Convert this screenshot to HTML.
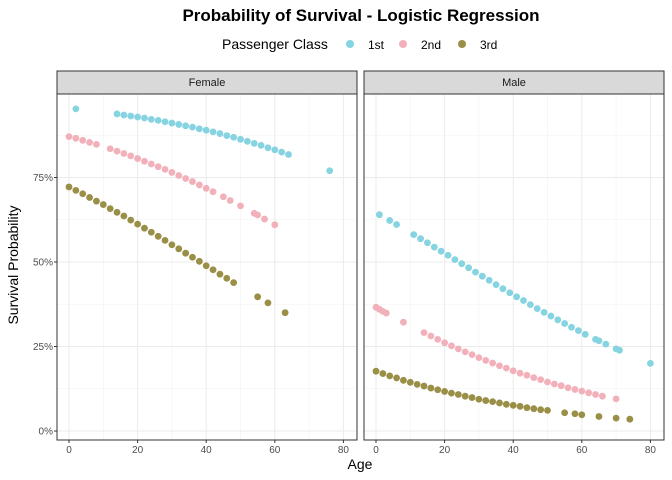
<!DOCTYPE html>
<html><head><meta charset="utf-8">
<style>
html,body{margin:0;padding:0;background:#fff;}
svg{display:block;font-family:"Liberation Sans",Arial,sans-serif;}
</style></head>
<body>
<svg id="chart" width="672" height="480" viewBox="0 0 672 480">
<text x="361" y="21" text-anchor="middle" font-size="17" font-weight="bold" fill="#000">Probability of Survival - Logistic Regression</text>
<g>
<text x="222" y="49" font-size="14" fill="#000">Passenger Class</text>
<circle cx="350" cy="44" r="4" fill="#86d3e1"/>
<text x="368" y="49" font-size="12" fill="#000">1st</text>
<circle cx="403" cy="44" r="4" fill="#f2b1ba"/>
<text x="421" y="49" font-size="12" fill="#000">2nd</text>
<circle cx="462" cy="44" r="4" fill="#9a8f47"/>
<text x="480" y="49" font-size="12" fill="#000">3rd</text>
</g>
<text x="360" y="469" text-anchor="middle" font-size="14" fill="#000">Age</text>
<text transform="translate(18,265) rotate(-90)" text-anchor="middle" font-size="14" fill="#000">Survival Probability</text>
<g id="panels"></g>
</svg>
<script>
const xTicks = [0, 20, 40, 60, 80];
const yTicks = [0, 0.25, 0.5, 0.75];
const yTickLabels = ["0%", "25%", "50%", "75%"];
const panelNames = ["Female", "Male"];
const classNames = ["1st", "2nd", "3rd"];

const femaleAge1 = [2,14,16,18,20,22,24,26,28,30,32,34,36,38,40,42,44,46,48,50,52,54,56,58,60,62,64,76];
const femaleProb1 = [.953,.938,.935,.932,.929,.926,.922,.919,.915,.911,.907,.903,.899,.894,.890,.885,.880,.874,.869,.863,.857,.851,.845,.838,.832,.825,.818,.770];
const femaleAge2 = [0,2,4,6,8,12,14,16,18,20,22,24,26,28,30,32,34,36,38,40,42,45,47,50,54,55,57,60];
const femaleProb2 = [.871,.866,.860,.854,.848,.835,.828,.821,.814,.806,.798,.790,.782,.774,.765,.756,.747,.738,.728,.718,.708,.693,.682,.666,.644,.639,.627,.610];
const femaleAge3 = [0,2,4,6,8,10,12,14,16,18,20,22,24,26,28,30,32,34,36,38,40,42,44,46,48,55,58,63];
const femaleProb3 = [.722,.712,.702,.691,.680,.670,.658,.647,.636,.624,.612,.600,.588,.576,.564,.551,.539,.526,.514,.502,.489,.477,.464,.452,.439,.397,.379,.350];
const maleAge1 = [1,4,6,11,13,15,17,19,21,23,25,27,29,31,33,35,37,39,41,43,45,47,49,51,53,55,57,59,61,64,65,67,70,71,80];
const maleProb1 = [.640,.623,.611,.581,.569,.557,.544,.532,.520,.507,.495,.483,.470,.458,.446,.433,.421,.409,.397,.386,.374,.362,.351,.340,.329,.318,.307,.297,.286,.271,.267,.257,.243,.239,.200];
const maleAge2 = [0,1,2,3,8,14,16,18,20,22,24,26,28,30,32,34,36,38,40,42,44,46,48,50,52,54,56,58,60,62,64,66,70];
const maleProb2 = [.366,.360,.354,.349,.322,.291,.281,.271,.261,.252,.243,.234,.226,.217,.209,.201,.193,.186,.178,.171,.165,.158,.152,.145,.139,.134,.128,.123,.118,.113,.108,.103,.095];
const maleAge3 = [0,2,4,6,8,10,12,14,16,18,20,22,24,26,28,30,32,34,36,38,40,42,44,46,48,50,55,58,60,65,70,74];
const maleProb3 = [.177,.170,.163,.157,.150,.144,.138,.133,.127,.122,.117,.112,.108,.103,.099,.094,.090,.087,.083,.079,.076,.073,.069,.066,.063,.061,.054,.051,.048,.043,.038,.035];

const colors = ["#86d3e1", "#f2b1ba", "#9a8f47"];
const NS = "http://www.w3.org/2000/svg";
const panelX = [57, 364], panelW = 300, panelTop = 94, panelBottom = 440;
function xScale(p, a){ return panelX[p] + 12 + a * 3.43; }
function yScale(v){ return 431 - v * 338; }
function mk(tag, attrs, parent){ const e = document.createElementNS(NS, tag); for (const k in attrs) e.setAttribute(k, attrs[k]); parent.appendChild(e); return e; }

const series = [
  [[femaleAge1, femaleProb1],[femaleAge2, femaleProb2],[femaleAge3, femaleProb3]],
  [[maleAge1, maleProb1],[maleAge2, maleProb2],[maleAge3, maleProb3]]
];
const root = document.getElementById("panels");
panelNames.forEach((name, p) => {
  const g = mk("g", {}, root);
  
  
  const x0 = panelX[p];
  mk("rect", {x:x0, y:panelTop, width:panelW, height:panelBottom-panelTop, fill:"#fff"}, g);
  for (let i = 0; i < xTicks.length - 1; i++) {
    const m = (xTicks[i] + xTicks[i+1]) / 2;
    mk("line", {x1:xScale(p,m), x2:xScale(p,m), y1:panelTop, y2:panelBottom, stroke:"#f2f2f2", "stroke-width":0.6}, g);
  }
  for (let i = 0; i < yTicks.length - 1; i++) {
    const m = (yTicks[i] + yTicks[i+1]) / 2;
    mk("line", {x1:x0, x2:x0+panelW, y1:yScale(m), y2:yScale(m), stroke:"#f2f2f2", "stroke-width":0.6}, g);
  }
  mk("line", {x1:x0, x2:x0+panelW, y1:yScale(0.875), y2:yScale(0.875), stroke:"#f2f2f2", "stroke-width":0.6}, g);
  xTicks.forEach(t => {
    mk("line", {x1:xScale(p,t), x2:xScale(p,t), y1:panelTop, y2:panelBottom, stroke:"#ebebeb", "stroke-width":1}, g);
    mk("line", {x1:xScale(p,t), x2:xScale(p,t), y1:panelBottom, y2:panelBottom+3, stroke:"#333", "stroke-width":1}, g);
    const tl = mk("text", {x:xScale(p,t), y:panelBottom+13, "text-anchor":"middle", "font-size":"10", fill:"#4d4d4d"}, g);
    
    
    tl.textContent = t;
  });
  yTicks.forEach((t, i) => {
    mk("line", {x1:x0, x2:x0+panelW, y1:yScale(t), y2:yScale(t), stroke:"#ebebeb", "stroke-width":1}, g);
    if (p === 0) {
      mk("line", {x1:x0-3, x2:x0, y1:yScale(t), y2:yScale(t), stroke:"#333", "stroke-width":1}, g);
      const tl = mk("text", {x:x0-4, y:yScale(t)+3.5, "text-anchor":"end", "font-size":"10", fill:"#4d4d4d"}, g);
      
      
      tl.textContent = yTickLabels[i];
    }
  });
  series[p].forEach((s, c) => {
    const sg = mk("g", {fill:colors[c]}, g);
    
    
    s[0].forEach((a, i) => {
      const pt = mk("circle", {cx:xScale(p,a), cy:yScale(s[1][i]), r:3.4}, sg);
      
      
    });
  });
  mk("rect", {x:x0, y:panelTop, width:panelW, height:panelBottom-panelTop, fill:"none", stroke:"#333", "stroke-width":1}, g);
  const st = mk("rect", {x:x0, y:71, width:panelW, height:23, fill:"#d9d9d9", stroke:"#333", "stroke-width":1}, g);
  
  
  const lab = mk("text", {x:x0+panelW/2, y:86, "text-anchor":"middle", "font-size":"11", fill:"#1a1a1a"}, g);
  
  
  lab.textContent = name;
});
</script>
</body></html>
